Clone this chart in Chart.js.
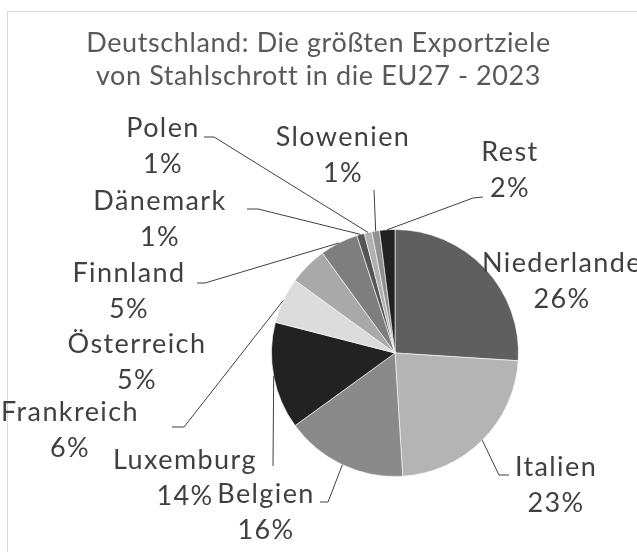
<!DOCTYPE html>
<html>
<head>
<meta charset="utf-8">
<script src="https://cdn.jsdelivr.net/npm/chart.js@4"></script>
<style>
  html, body { margin: 0; padding: 0; background: #fff; }
  #chart { display: block; }
</style>
</head>
<body>
<canvas id="chart" width="637" height="552"></canvas>
<script>
const titleLines = ['Deutschland: Die größten Exportziele', 'von Stahlschrott in die EU27 - 2023'];
const countries = ['Niederlande', 'Italien', 'Belgien', 'Luxemburg', 'Frankreich', 'Österreich',
    'Finnland', 'Dänemark', 'Polen', 'Slowenien', 'Rest'];
const shares = [26, 23, 16, 14, 6, 5, 5, 1, 1, 1, 2];
const sliceColors = ['#5f5f5f', '#b4b4b4', '#8a8a8a', '#222222', '#dcdcdc', '#a9a9a9',
    '#7e7e7e', '#555555', '#b0b0b0', '#909090', '#222222'];

// label placement: centre of first text line, and optional leader elbow (from text -> towards pie)
const labelLayout = [
    { x: 562, y: 263, leader: null },
    { x: 556, y: 467, leader: [[509, 475], [499, 475]] },
    { x: 266, y: 494, leader: [[320, 502], [328, 502]] },
    { x: 185, y: 460, leader: [[273, 466]] },
    { x: 70, y: 412, leader: [[172, 427], [184, 427]] },
    { x: 137, y: 344, leader: null },
    { x: 129, y: 273, leader: [[197, 283], [205, 283]] },
    { x: 160, y: 201, leader: [[247, 209], [258, 209]] },
    { x: 163, y: 128, leader: [[204, 137], [214, 137]] },
    { x: 343, y: 137, leader: [[374, 190]] },
    { x: 510, y: 152, leader: [[483, 197], [473, 198]] }
];
const lineGap = 36;

const decorPlugin = {
    id: 'decor',
    beforeDraw(chart) {
        const ctx = chart.ctx;
        ctx.save();
        ctx.strokeStyle = '#d9d9d9';
        ctx.lineWidth = 1;
        ctx.strokeRect(7.5, 11.5, chart.width + 20, chart.height + 20);
        ctx.fillStyle = '#595959';
        ctx.font = '27px Lato';
        ctx.letterSpacing = '0.6px';
        ctx.textAlign = 'center';
        ctx.textBaseline = 'middle';
        titleLines.forEach((t, i) => ctx.fillText(t, chart.width / 2, 43 + i * 33));
        ctx.restore();
    },
    afterDraw(chart) {
        const ctx = chart.ctx;
        const meta = chart.getDatasetMeta(0);
        ctx.save();
        ctx.strokeStyle = '#404040';
        ctx.lineWidth = 1;
        meta.data.forEach((arc, i) => {
            const lay = labelLayout[i];
            if (!lay.leader) return;
            const p = arc.getProps(['x', 'y', 'startAngle', 'endAngle', 'outerRadius'], true);
            const mid = (p.startAngle + p.endAngle) / 2;
            const ex = p.x + Math.cos(mid) * p.outerRadius;
            const ey = p.y + Math.sin(mid) * p.outerRadius;
            ctx.beginPath();
            ctx.moveTo(lay.leader[0][0], lay.leader[0][1]);
            lay.leader.slice(1).forEach(pt => ctx.lineTo(pt[0], pt[1]));
            ctx.lineTo(ex, ey);
            ctx.stroke();
        });
        ctx.fillStyle = '#404040';
        ctx.font = '27px Lato';
        ctx.letterSpacing = '1.4px';
        ctx.textAlign = 'center';
        ctx.textBaseline = 'middle';
        countries.forEach((c, i) => {
            const lay = labelLayout[i];
            ctx.fillText(c, lay.x, lay.y);
            ctx.fillText(shares[i] + '%', lay.x, lay.y + lineGap);
        });
        ctx.restore();
    }
};

new Chart(document.getElementById('chart'), {
    type: 'pie',
    data: {
        labels: countries,
        datasets: [{
            data: shares,
            backgroundColor: sliceColors,
            borderColor: 'rgba(255,255,255,0.6)',
            borderWidth: 1
        }]
    },
    options: {
        responsive: false,
        animation: false,
        layout: { padding: { top: 229, bottom: 75, left: 271, right: 118 } },
        plugins: {
            legend: { display: false },
            title: { display: false },
            tooltip: { enabled: false }
        }
    },
    plugins: [decorPlugin]
});
</script>
</body>
</html>
